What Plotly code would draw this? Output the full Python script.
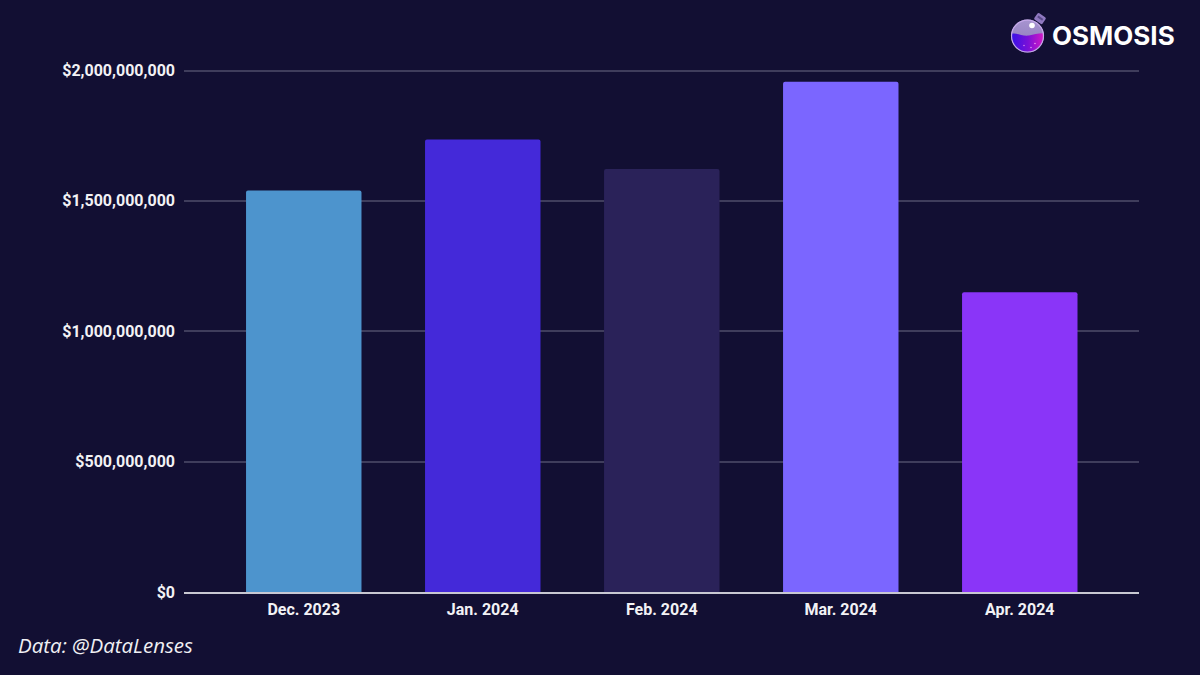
import base64
import plotly.graph_objects as go

months = ["Dec. 2023", "Jan. 2024", "Feb. 2024", "Mar. 2024", "Apr. 2024"]
volumes = [1540000000, 1735000000, 1622000000, 1957000000, 1150000000]
colors = ["#4d94cd", "#4429d9", "#2a2259", "#7b66ff", "#8a35f8"]
tick_vals = [0, 500000000, 1000000000, 1500000000, 2000000000]
tick_text = ["$0", "$500,000,000", "$1,000,000,000", "$1,500,000,000", "$2,000,000,000"]
BG = "#120f33"
TXT = "#f2f2f5"

# plot box: the top gridline must sit >1px inside the plot or Plotly clips it
LEFT, RIGHT, TOP, BOTTOM = 184, 1139, 68.5, 592
PW, PH = RIGHT - LEFT, BOTTOM - TOP
def px(x): return (x - LEFT) / PW
def py(y): return (BOTTOM - y) / PH

logo_svg = """<svg xmlns="http://www.w3.org/2000/svg" width="40" height="44" viewBox="0 0 40 44">
<defs>
<linearGradient id="g" x1="0" y1="0" x2="1" y2="0"><stop offset="0" stop-color="#2d12e8"/><stop offset="0.5" stop-color="#7a10d8"/><stop offset="1" stop-color="#e81cc0"/></linearGradient>
<linearGradient id="t" x1="0" y1="0" x2="0" y2="1"><stop offset="0" stop-color="#a794d0"/><stop offset="1" stop-color="#8a76b8"/></linearGradient>
<clipPath id="c"><circle cx="18.5" cy="23.5" r="16"/></clipPath>
</defs>
<g transform="rotate(35 31 6)"><rect x="26" y="2" width="10" height="8" rx="1.5" fill="#8f78c0"/><rect x="28" y="4.5" width="6" height="2" fill="#5a4a8a"/></g>
<circle cx="18.5" cy="23.5" r="16.5" fill="url(#t)"/>
<g clip-path="url(#c)"><path d="M0 22 C8 19 12 24 20 23 C26 22 30 20 38 21 L38 44 L0 44 Z" fill="url(#g)"/></g>
<circle cx="18.5" cy="23.5" r="16" fill="none" stroke="#c4a8e8" stroke-width="1.2"/>
<circle cx="23" cy="13" r="2.8" fill="#ffffff"/>
<circle cx="15" cy="33" r="0.8" fill="#d080f0"/><circle cx="22" cy="35" r="0.8" fill="#e090f0"/><circle cx="26" cy="31" r="0.8" fill="#f0a0f0"/>
</svg>"""
logo_uri = "data:image/svg+xml;base64," + base64.b64encode(logo_svg.encode()).decode()

fig = go.Figure(go.Bar(x=months, y=volumes, width=0.645,
                       marker=dict(color=colors, line=dict(width=0), cornerradius=2)))
fig.update_layout(
    width=1200, height=675, paper_bgcolor=BG, plot_bgcolor=BG, showlegend=False,
    margin=dict(l=LEFT, r=1200 - RIGHT, t=TOP, b=675 - BOTTOM),
    font=dict(family="Roboto", color=TXT, size=16),
    xaxis=dict(range=[-0.669, 4.666], showgrid=False, showline=True, linecolor="#c8c8d2", linewidth=1.5,
               ticks="", ticklabelstandoff=2,
               tickfont=dict(family="Roboto", size=16, weight=700, color=TXT)),
    yaxis=dict(range=[0, 2e9 * PH / 522], tickvals=tick_vals, ticktext=tick_text, gridcolor="#3f3d5c",
               gridwidth=1.5, zeroline=False, ticks="", ticklabelstandoff=8,
               tickfont=dict(family="Roboto", size=16, weight=700, color=TXT)),
)
fig.add_annotation(text="<i>Data: @DataLenses</i>", xref="paper", yref="paper",
                   x=px(18), y=py(645.5), xanchor="left", yanchor="middle", showarrow=False, borderpad=0, borderwidth=0,
                   font=dict(family="Open Sans", size=20.5, color="#f0f0f4"))
fig.add_annotation(text="<b>OSMOSIS</b>", xref="paper", yref="paper",
                   x=px(1175), y=py(35), xanchor="right", yanchor="middle", showarrow=False, borderpad=0, borderwidth=0,
                   font=dict(family="Inter", size=26, color="#ffffff"))
fig.add_layout_image(source=logo_uri, xref="paper", yref="paper", x=px(1009), y=py(12),
                     sizex=40 / PW, sizey=44 / PH, xanchor="left", yanchor="top", layer="above", sizing="contain")
fig.write_html("out.html", config={"displayModeBar": False},
               post_script="document.body.style.margin='0';document.body.style.background='#120f33';")
